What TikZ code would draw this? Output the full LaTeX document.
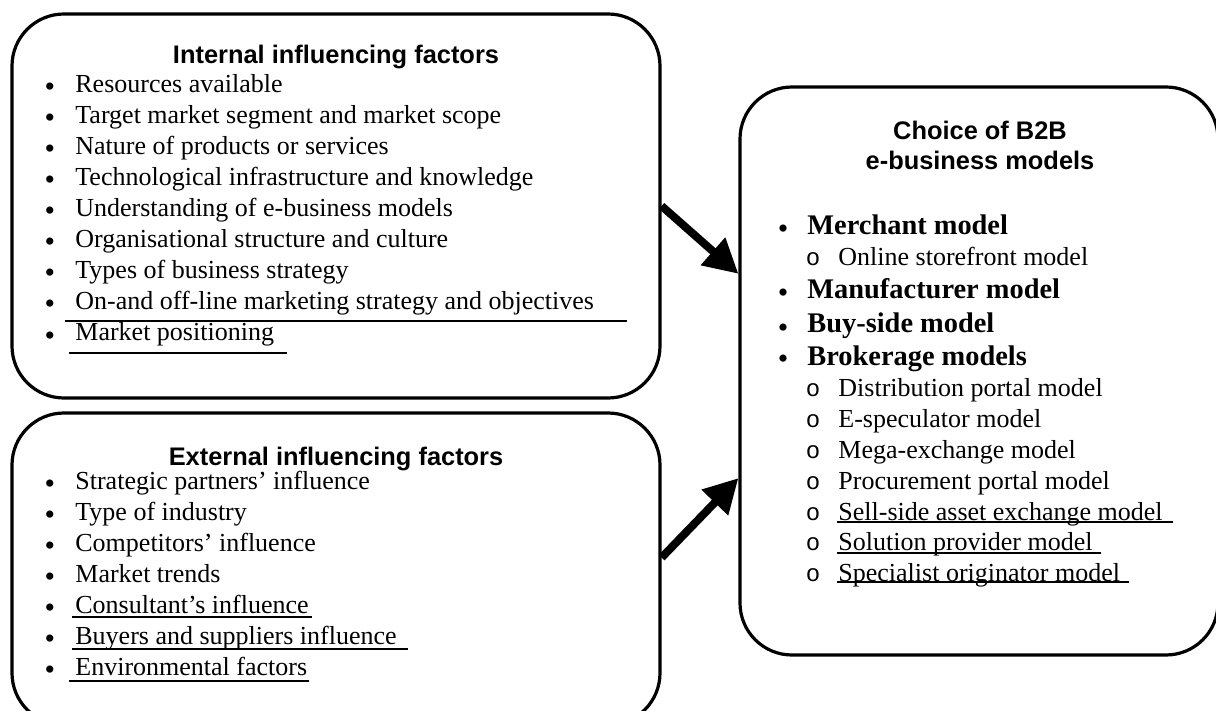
\documentclass[tikz,border=0pt]{standalone}
\usepackage{fontspec}
\setmainfont{Liberation Serif}
\setsansfont{Liberation Sans}
\setmonofont{Liberation Mono}
\usetikzlibrary{arrows.meta}

\begin{document}
\begin{tikzpicture}
  [x=0.5pt,y=-0.5pt,
  panel/.style={draw=black,line width=1.6pt,rounded corners=26pt},
  heading/.style={font=\sffamily\bfseries\fontsize{12.7}{15}\selectfont,inner sep=0pt,anchor=base},
  entry/.style={font=\fontsize{13}{15.5}\selectfont,inner sep=0pt,anchor=base west},
  bigentry/.style={font=\bfseries\fontsize{14.2}{17}\selectfont,inner sep=0pt,anchor=base west},
  dot/.style={font=\fontsize{15}{15}\selectfont,inner sep=0pt,anchor=base,yshift=-2pt},
  ring/.style={font=\ttfamily\fontsize{12}{14}\selectfont,inner sep=0pt,anchor=base},
  uline/.style={line width=1pt},
  flow/.style={-{Triangle[length=17pt,width=17.5pt]},line width=4pt}]

  \path[use as bounding box] (0,0) rectangle (1216,711);
  \clip (0,0) rectangle (1216,711);

  % the three panels
  \node (internal) [panel,minimum width=324pt,minimum height=192pt] at (336,206) {};
  \node (external) [panel,minimum width=324pt,minimum height=156pt] at (336,569) {};
  \node (choice) [panel,minimum width=239pt,minimum height=284pt] at (979,371) {};

  \node (intTitle) [heading] at (336,64) {Internal influencing factors};
  \node (extTitle) [heading] at (336,465) {External influencing factors};
  \node (choiceTitleA) [heading] at (980,140) {Choice of B2B};
  \node (choiceTitleB) [heading] at (980,170) {e-business models};

  % internal factors
  \foreach \txt [count=\i] in {Resources available,
      Target market segment and market scope,
      Nature of products or services,
      Technological infrastructure and knowledge,
      Understanding of e-business models,
      Organisational structure and culture,
      Types of business strategy,
      On-and off-line marketing strategy and objectives,
      Market positioning} {
    \node (intdot\i) [dot] at (50,62+31*\i) {•};
    \node (int\i) [entry] at (75,62+31*\i) {\txt};
  }

  % external factors
  \foreach \txt [count=\i] in {Strategic partners’ influence,
      Type of industry,
      Competitors’ influence,
      Market trends,
      Consultant’s influence,
      Buyers and suppliers influence,
      Environmental factors} {
    \node (extdot\i) [dot] at (50,458+31*\i) {•};
    \node (ext\i) [entry] at (75,458+31*\i) {\txt};
  }

  % models
  \node (mdot1) [dot] at (783,235) {•};
  \node (m1) [bigentry] at (807,235) {Merchant model};
  \node (sdot0) [ring] at (813,266) {o};
  \node (s0) [entry] at (838,266) {Online storefront model};
  \node (mdot2) [dot] at (783,299) {•};
  \node (m2) [bigentry] at (807,299) {Manufacturer model};
  \node (mdot3) [dot] at (783,333) {•};
  \node (m3) [bigentry] at (807,333) {Buy-side model};
  \node (mdot4) [dot] at (783,365) {•};
  \node (m4) [bigentry] at (807,365) {Brokerage models};
  \foreach \txt [count=\i] in {Distribution portal model,
      E-speculator model,
      Mega-exchange model,
      Procurement portal model,
      Sell-side asset exchange model,
      Solution provider model,
      Specialist originator model} {
    \node (sdot\i) [ring] at (813,366+30.8*\i) {o};
    \node (s\i) [entry] at (838,366+30.8*\i) {\txt};
  }

  % underlines
  \draw[uline] (65,321) -- (627,321);
  \draw[uline] (69,353) -- (287,353);
  \draw[uline] (72,617) -- (312,617);
  \draw[uline] (72,649) -- (408,649);
  \draw[uline] (69,681) -- (309,681);
  \draw[uline] (837,522) -- (1173,522);
  \draw[uline] (837,553) -- (1101,553);
  \draw[uline] (837,582) -- (1129,582);

  \draw[flow] (internal.east) -- (choice.158);
  \draw[flow] (external.2) -- (choice.204);
\end{tikzpicture}
\end{document}
